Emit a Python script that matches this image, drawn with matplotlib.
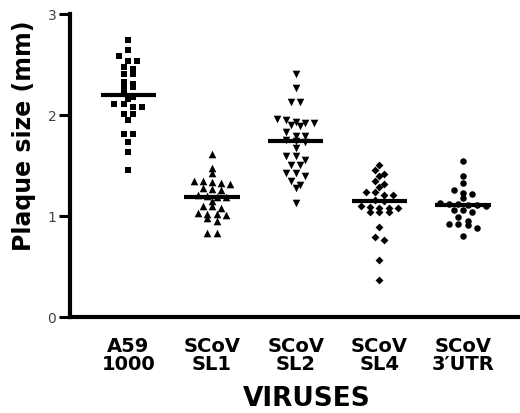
import matplotlib
matplotlib.use("Agg")
import matplotlib.pyplot as plt

plt.rcParams['font.family'] = ['DejaVu Sans']

# column scatter data (plaque size, mm)
groups = ["A59\n1000", "SCoV\nSL1", "SCoV\nSL2", "SCoV\nSL4", "SCoV\n3\u2032UTR"]
a59 = [2.74, 2.64, 2.58, 2.54, 2.54, 2.48, 2.46, 2.41, 2.41, 2.33, 2.31, 2.28, 2.28,
       2.22, 2.18, 2.16, 2.11, 2.11, 2.08, 2.08, 2.01, 2.01, 1.95, 1.81, 1.81, 1.73,
       1.63, 1.46]
sl1 = [1.61, 1.48, 1.43, 1.35, 1.35, 1.34, 1.33, 1.32, 1.28, 1.27, 1.26, 1.21, 1.20,
       1.19, 1.19, 1.15, 1.10, 1.10, 1.08, 1.03, 1.02, 1.02, 1.01, 0.98, 0.95, 0.83, 0.83]
sl2 = [2.41, 2.27, 2.13, 2.13, 1.96, 1.95, 1.93, 1.92, 1.92, 1.90, 1.89, 1.83, 1.79,
       1.79, 1.75, 1.74, 1.73, 1.67, 1.60, 1.60, 1.56, 1.51, 1.51, 1.43, 1.43, 1.40,
       1.35, 1.31, 1.28, 1.13]
sl4 = [1.51, 1.46, 1.42, 1.40, 1.35, 1.32, 1.29, 1.24, 1.24, 1.21, 1.21, 1.16, 1.15,
       1.10, 1.09, 1.08, 1.08, 1.08, 1.04, 1.04, 1.04, 0.89, 0.79, 0.76, 0.57, 0.37]
utr = [1.55, 1.40, 1.33, 1.26, 1.23, 1.22, 1.18, 1.13, 1.12, 1.12, 1.11, 1.11, 1.10,
       1.06, 1.06, 1.04, 0.99, 0.95, 0.92, 0.92, 0.91, 0.88, 0.80]
medians = [2.20, 1.19, 1.74, 1.15, 1.11]

series = [a59, sl1, sl2, sl4, utr]
markers = ["s", "^", "v", "D", "o"]
sizes = [24, 30, 30, 16, 22]


def spread(vals, tol=0.045, step=0.11):
    # put close values on one row and spread them sideways, like prism does
    vals = sorted(vals, reverse=True)
    rows, cur = [], [vals[0]]
    for v in vals[1:]:
        if cur[0] - v <= tol:
            cur.append(v)
        else:
            rows.append(cur)
            cur = [v]
    rows.append(cur)
    xs, ys = [], []
    for r in rows:
        n = len(r)
        for i, v in enumerate(r):
            xs.append((i - (n - 1) / 2) * step)
            ys.append(v)
    return xs, ys


fig = plt.figure(figsize=(5.2, 4.13), dpi=100)
ax = fig.add_axes([0.135, 0.232, 0.865, 0.734])

for i, (vals, m, s) in enumerate(zip(series, markers, sizes)):
    pos = i + 1
    dx, ys = spread(vals)
    ax.scatter([pos + d for d in dx], ys, marker=m, s=s, color="black",
               linewidths=0, zorder=3)
    ax.plot([pos - 0.33, pos + 0.33], [medians[i]] * 2, color="black", lw=3,
            solid_capstyle="butt", zorder=4)

ax.set_xlim(0.307, 5.68)
ax.set_ylim(0, 3)
ax.set_yticks([0, 1, 2, 3])
ax.set_xticks(range(1, 6))
ax.set_xticklabels(groups, fontsize=14, fontweight="bold", linespacing=0.95)
ax.tick_params(axis="x", length=0, pad=14)
ax.tick_params(axis="y", length=8, width=2.2, labelsize=10, labelcolor="#444444", pad=2)

ax.spines["top"].set_visible(False)
ax.spines["right"].set_visible(False)
ax.spines["left"].set_linewidth(3)
ax.spines["bottom"].set_linewidth(3)

ax.set_ylabel("Plaque size (mm)", fontsize=17, fontweight="bold")
ax.yaxis.set_label_coords(-0.075, 0.6)
ax.set_xlabel("VIRUSES", fontsize=19, fontweight="bold")
ax.xaxis.set_label_coords(0.527, -0.228)

fig.savefig("out.png", dpi=100)
